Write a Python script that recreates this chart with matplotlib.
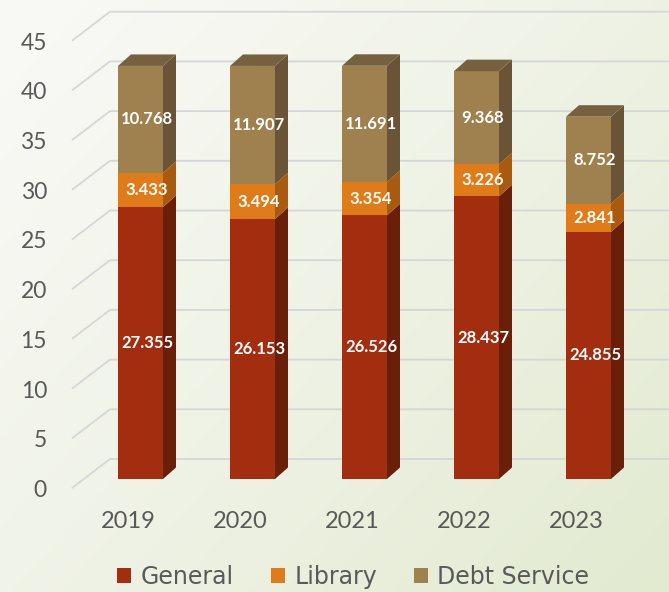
import matplotlib
matplotlib.use("Agg")
import matplotlib.pyplot as plt
from matplotlib.patches import Polygon, Patch
import numpy as np

years = ["2019", "2020", "2021", "2022", "2023"]
general = [27.355, 26.153, 26.526, 28.437, 24.855]
library = [3.433, 3.494, 3.354, 3.226, 2.841]
debt = [10.768, 11.907, 11.691, 9.368, 8.752]
series_names = ["General", "Library", "Debt Service"]
yticks = [0, 5, 10, 15, 20, 25, 30, 35, 40, 45]

front_cols = ["#A32D0F", "#E07B1A", "#9F804F"]
side_cols = ["#6B1E08", "#A95A0E", "#6A5435"]
top_cols = ["#7A2410", "#B8661A", "#776040"]

W, H = 669, 592
fig = plt.figure(figsize=(W / 100, H / 100), dpi=100)

# background gradient
bg = fig.add_axes([0, 0, 1, 1])
yy, xx = np.mgrid[0:1:200j, 0:1:200j]
t = np.clip(0.55 * xx + 0.45 * yy, 0, 1) ** 1.2
c0 = np.array([249, 249, 246]) / 255
c1 = np.array([226, 234, 208]) / 255
img = c0[None, None, :] * (1 - t[..., None]) + c1[None, None, :] * t[..., None]
bg.imshow(img, aspect="auto", extent=[0, 1, 0, 1], origin="upper")
bg.axis("off")

ax = fig.add_axes([0, 0, 1, 1])
ax.patch.set_alpha(0)
ax.axis("off")

# front-plane mapping (pixel geometry of the 3D view)
px_per_cat = 112.0
px_per_val = 9.94
x0_px, y0_px = 140.5, 479.0
ax.set_xlim((0 - x0_px) / px_per_cat, (W - x0_px) / px_per_cat)
ax.set_ylim((y0_px - H) / px_per_val, y0_px / px_per_val)

bw = 45 / px_per_cat
ddx = 13 / px_per_cat
ddy = 11.5 / px_per_val
wall_front_x = (72 - x0_px) / px_per_cat
wall_back_x = (110 - x0_px) / px_per_cat
wall_front_dy = -9 / px_per_val
wall_back_dy = 20 / px_per_val
xmax = ax.get_xlim()[1]

grid_col = "#D6D6D6"
for v in yticks:
    ax.plot([wall_front_x, wall_back_x, xmax],
            [v + wall_front_dy, v + wall_back_dy, v + wall_back_dy],
            color=grid_col, lw=1.3, zorder=1, solid_capstyle="butt")
    ax.text(wall_front_x - 25 / px_per_cat, v + wall_front_dy - 0.25, str(v),
            ha="right", va="center", fontsize=16.5, color="#595959",
            family="Lato")

xs = np.arange(len(years))
series = [general, library, debt]
bottoms = np.zeros(len(years))
for si, vals in enumerate(series):
    vals = np.array(vals)
    ax.bar(xs, vals, bottom=bottoms, width=bw, color=front_cols[si],
           zorder=3, linewidth=0)
    for i, x in enumerate(xs):
        b, tp = bottoms[i], bottoms[i] + vals[i]
        xr = x + bw / 2
        side = Polygon([(xr, b), (xr + ddx, b + ddy), (xr + ddx, tp + ddy), (xr, tp)],
                       closed=True, facecolor=side_cols[si], edgecolor="none", zorder=3)
        ax.add_patch(side)
        if si == len(series) - 1:
            xl = x - bw / 2
            top = Polygon([(xl, tp), (xr, tp), (xr + ddx, tp + ddy), (xl + ddx, tp + ddy)],
                          closed=True, facecolor=top_cols[si], edgecolor="none", zorder=3)
            ax.add_patch(top)
        ax.text(x + ddx / 2, b + vals[i] / 2, f"{vals[i]:.3f}", ha="center",
                va="center", color="white", fontsize=12, fontweight="bold",
                family="Lato", zorder=5)
    bottoms = bottoms + vals

for i, x in enumerate(xs):
    ax.text(x - 12 / px_per_cat, (y0_px - 522) / px_per_val, years[i],
            ha="center", va="center", fontsize=17, color="#595959", family="Lato")

handles = [Patch(facecolor=c, edgecolor="none") for c in front_cols]
fig.legend(handles, series_names, loc="center", bbox_to_anchor=(0.528, 0.025),
           ncol=3, frameon=False, handlelength=0.6, handleheight=0.6,
           handletextpad=0.4, columnspacing=1.55,
           prop={"family": "DejaVu Sans", "size": 17}, labelcolor="#595959")

fig.savefig("out.png", dpi=100)
